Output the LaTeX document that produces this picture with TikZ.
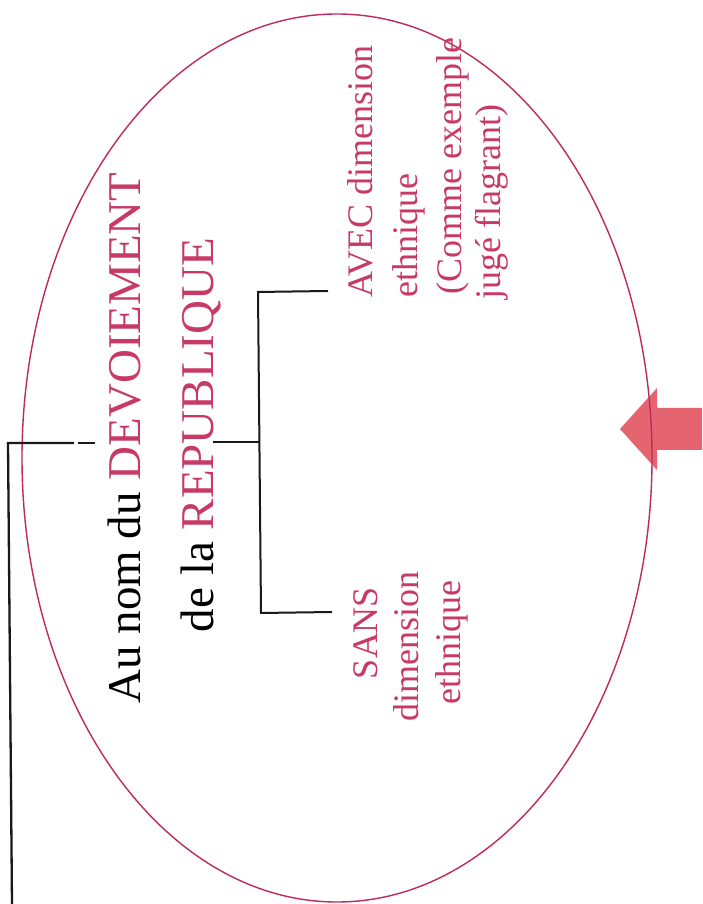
\documentclass[tikz,border=0pt]{standalone}
\usepackage{fontspec}
\usetikzlibrary{shapes.geometric}
\setmainfont{Liberation Serif}
\definecolor{ellcol}{HTML}{BE2A5C}
\definecolor{txtred}{HTML}{C83A66}
\definecolor{arrcol}{HTML}{E4646F}
\begin{document}
\begin{tikzpicture}[x=1pt,y=1pt,
  conn/.style={draw=black!90, line width=2pt},
  bigtxt/.style={rotate=90, anchor=base, inner sep=0pt, font=\fontsize{47}{56}\selectfont},
  smalltxt/.style={rotate=90, inner sep=0pt, text=txtred, font=\fontsize{36}{43}\selectfont}]
\useasboundingbox (0,0) rectangle (702,904);
\fill[white] (0,0) rectangle (702,904);
% block arrow
\fill[arrcol] (620,475) -- (657,516) -- (657,496) -- (702,496) -- (702,454) -- (657,454) -- (657,434) -- cycle;
% ellipse
\node[draw=ellcol, line width=1.4pt, ellipse, minimum width=630pt, minimum height=888pt, inner sep=0pt] (ell) at (337,446) {};
% title
\node[bigtxt] (t1) at (140,466) {Au nom du \textcolor{txtred}{DEVOIEMENT}};
\node[bigtxt] (t2) at (213,469) {de la \textcolor{txtred}{REPUBLIQUE}};
% AVEC block
\node[smalltxt, anchor=base west] (a1) at (372,606) {AVEC dimension};
\node[smalltxt, anchor=base west] (a2) at (417,606) {ethnique};
\node[smalltxt, anchor=base west] (a3) at (461,609) {(Comme exemple};
\node[smalltxt, anchor=base west] (a4) at (500,604) {jugé flagrant)};
% SANS block
\node[smalltxt, anchor=base] (s1) at (377,271) {SANS};
\node[smalltxt, anchor=base] (s2) at (418,257) {dimension};
\node[smalltxt, anchor=base] (s3) at (460,261) {ethnique};
% connector coordinates
\coordinate (lbot) at (12,0);
\coordinate (lcor) at (8,461);
\coordinate (lgap1) at (74,461);
\coordinate (lgap2) at (78,461);
\coordinate (lend) at (95,461);
\coordinate (mstart) at (213,462);
\coordinate (mjoin) at (259,462);
\coordinate (btop) at (258,612);
\coordinate (bbot) at (261,291);
\coordinate (atip) at (328,613);
\coordinate (stip) at (332,292);
% connectors
\draw[conn, line width=2.3pt] (lbot) -- (lcor) -- (lgap1);
\draw[conn] (lgap2) -- (lend);
\draw[conn] (mstart) -- (mjoin);
\draw[conn] (atip) -- (btop) -- (bbot) -- (stip);
\end{tikzpicture}
\end{document}
